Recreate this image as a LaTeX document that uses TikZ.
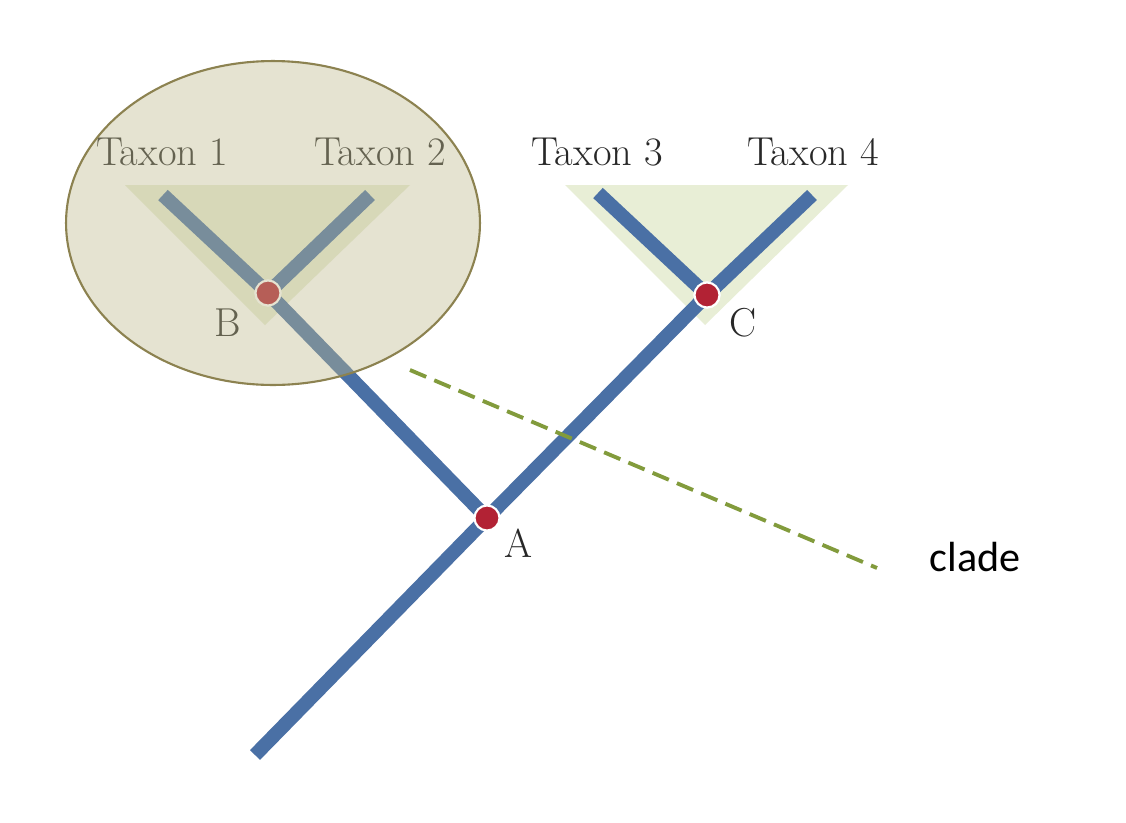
\documentclass[tikz,border=0pt]{standalone}
\usepackage{fontspec}
\usetikzlibrary{shapes.geometric}
\newfontfamily\cladefont{Carlito}
\begin{document}
\begin{tikzpicture}[x=0.02cm,y=-0.02cm,
  br/.style={line width=0.28cm,color={rgb,255:red,74;green,112;blue,165}},
  dot/.style={circle,fill={rgb,255:red,178;green,34;blue,52},draw=white,line width=1.2pt,minimum size=0.5cm,inner sep=0pt},
  tri/.style={fill={rgb,255:red,232;green,238;blue,214}},
  tx/.style={font=\fontsize{23}{26}\selectfont,text={rgb,255:red,40;green,40;blue,40}}]
\useasboundingbox (0,0) rectangle (1126,822);
\fill[white] (0,0) rectangle (1126,822);
\fill[tri] (125,185)--(410,185)--(265,325)--cycle;
\fill[tri] (565,185)--(848,185)--(705,325)--cycle;
\coordinate (t1) at (163,195); \coordinate (t2) at (370,195);
\coordinate (t3) at (598,193); \coordinate (t4) at (812,195);
\coordinate (r) at (255,755);
\node[dot] (B) at (268,293) {}; \node[dot] (C) at (707,295) {}; \node[dot] (A) at (487,518) {};
\draw[br] (t1)--(B.center)--(A.center); \draw[br] (t2)--(B.center);
\draw[br] (t3)--(C.center)--(A.center)--(r); \draw[br] (t4)--(C.center);
\node[dot] at (B) {}; \node[dot] at (C) {}; \node[dot] at (A) {};
\node[tx] (l1) at (162,152) {Taxon 1};
\node[tx] (l2) at (380,152) {Taxon 2};
\node[tx] (l3) at (597,152) {Taxon 3};
\node[tx] (l4) at (813,152) {Taxon 4};
\node[tx] (lb) at (228,323) {B};
\node[tx] (lc) at (743,323) {C};
\node[tx] (la) at (518,543) {A};
\node[ellipse,draw={rgb,255:red,140;green,130;blue,80},line width=1.2pt,fill={rgb,255:red,190;green,185;blue,140},fill opacity=0.4,minimum width=8.28cm,minimum height=6.48cm] (E) at (273,223) {};
\coordinate (d1) at (410,370); \coordinate (d2) at (877,568);
\draw[line width=2.2pt,dash pattern=on 10pt off 5pt,color={rgb,255:red,130;green,155;blue,60}] (d1)--(d2);
\node[font=\cladefont\fontsize{24}{28}\selectfont] (cl) at (975,557) {clade};
\end{tikzpicture}
\end{document}
